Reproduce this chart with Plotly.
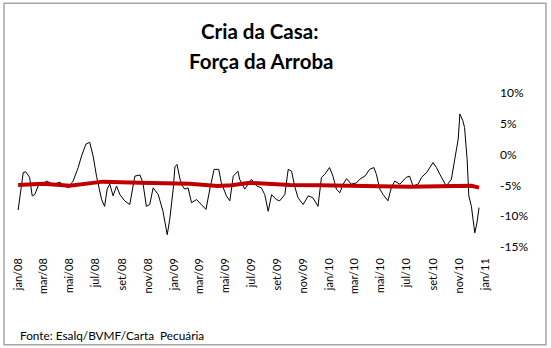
import pandas as pd
import plotly.graph_objects as go

# --- data -------------------------------------------------------------
START = "2008-01-01"

# weekly-ish readings of the cattle spread indicator (days from START, %)
black_days = [0, 12, 18, 27, 33, 39, 47, 67, 82, 98, 117, 129, 141, 149, 159, 168,
              176, 184, 196, 203, 209, 215, 223, 231, 239, 250, 262, 274, 286, 293,
              301, 309, 317, 329, 340, 350, 356, 364, 368, 373, 380, 386, 391, 399,
              407, 419, 430, 441, 450, 460, 471, 477, 489, 497, 505, 516, 520, 532,
              548, 560, 571, 579, 587, 595, 606, 614, 626, 634, 642, 649, 657, 669,
              681, 692, 704, 712, 720, 731, 739, 747, 755, 763, 771, 782, 794, 802,
              814, 825, 835, 841, 849, 857, 868, 876, 884, 896, 911, 919, 927, 939,
              947, 959, 974, 982, 990, 998, 1005, 1017, 1025, 1033, 1037, 1044,
              1048, 1054, 1058, 1064, 1072, 1077, 1082]
black_vals = [-9.0, -2.9, -2.8, -3.7, -6.7, -6.5, -5.1, -4.3, -4.8, -4.5, -5.4, -4.3,
              -2.1, -0.2, 1.7, 2.0, -0.2, -3.5, -7.3, -8.4, -5.6, -4.8, -6.7, -5.1,
              -6.5, -7.5, -8.1, -3.5, -3.3, -4.6, -8.4, -8.1, -5.4, -6.5, -9.2, -13.0,
              -10.5, -5.6, -2.0, -1.6, -4.0, -5.1, -5.6, -5.4, -7.8, -7.3, -8.1, -8.9,
              -5.6, -2.4, -2.4, -4.6, -6.7, -7.5, -3.5, -2.7, -4.0, -5.6, -4.0, -5.1,
              -5.4, -6.5, -9.2, -6.5, -7.3, -7.5, -6.5, -2.4, -2.7, -5.1, -7.0, -8.1,
              -6.7, -7.0, -8.4, -3.7, -3.2, -2.1, -3.5, -5.6, -6.2, -4.8, -3.9, -4.8,
              -4.6, -4.0, -3.5, -2.4, -2.1, -3.2, -5.6, -6.5, -7.5, -5.4, -4.3, -4.8,
              -3.7, -3.5, -5.1, -4.8, -3.7, -2.9, -1.3, -2.1, -3.2, -4.3, -5.1, -4.0,
              -0.8, 2.5, 6.6, 5.5, 4.4, -0.8, -6.7, -8.4, -12.7, -11.1, -8.6]

# long-run average of the same indicator (days from START, %)
red_days = [0, 58, 121, 199, 285, 344, 403, 468, 501, 544, 585, 638, 707, 779, 849,
            920, 989, 1043, 1064, 1082]
red_vals = [-4.94, -4.75, -5.07, -4.39, -4.55, -4.59, -4.72, -5.10, -4.99, -4.59,
            -4.75, -4.94, -4.99, -5.10, -5.20, -5.20, -5.15, -4.99, -5.07, -5.37]

tick_dates = ["2008-01-01", "2008-03-01", "2008-05-01", "2008-07-01", "2008-09-01",
              "2008-11-01", "2009-01-01", "2009-03-01", "2009-05-01", "2009-07-01",
              "2009-09-01", "2009-11-01", "2010-01-01", "2010-03-01", "2010-05-01",
              "2010-07-01", "2010-09-01", "2010-11-01", "2011-01-01"]
tick_labels = ["jan/08", "mar/08", "mai/08", "jul/08", "set/08", "nov/08", "jan/09",
               "mar/09", "mai/09", "jul/09", "set/09", "nov/09", "jan/10", "mar/10",
               "mai/10", "jul/10", "set/10", "nov/10", "jan/11"]
y_ticks = [10, 5, 0, -5, -10, -15]

start = pd.Timestamp(START)
black_x = start + pd.to_timedelta(black_days, unit="D")
red_x = start + pd.to_timedelta(red_days, unit="D")

# --- layout geometry (pixels) -----------------------------------------
W, H = 551, 348
ML, MR, MT, MB = 16, 63, 93.3, 101.3
PW, PH = W - ML - MR, H - MT - MB


def px(x):
    return (x - ML) / PW


def py(y):
    return (H - MB - y) / PH


FONT = "Lato, 'Open Sans', sans-serif"

fig = go.Figure()
fig.add_trace(go.Scatter(x=black_x, y=black_vals, mode="lines",
                         line=dict(color="#000000", width=1), showlegend=False))
fig.add_trace(go.Scatter(x=red_x, y=red_vals, mode="lines",
                         line=dict(color="#c00000", width=4), showlegend=False))

fig.update_layout(
    width=W, height=H,
    margin=dict(l=ML, r=MR, t=MT, b=MB),
    paper_bgcolor="white", plot_bgcolor="white",
    font=dict(family=FONT, color="#000000"),
    xaxis=dict(
        range=["2007-12-27", "2011-01-08"],
        tickvals=tick_dates, ticktext=tick_labels,
        tickangle=-90, tickfont=dict(size=11),
        showgrid=False, zeroline=False, showline=False,
        ticks="", ticklabelstandoff=8,
    ),
    yaxis=dict(
        range=[-15, 10], side="right",
        tickvals=y_ticks, ticktext=[f"{v}%" for v in y_ticks],
        tickfont=dict(size=12),
        showgrid=False, zeroline=False, showline=False,
        ticks="", ticklabelstandoff=11,
    ),
    shapes=[dict(type="rect", xref="paper", yref="paper",
                 x0=px(4), x1=px(546), y0=py(344), y1=py(4),
                 line=dict(color="#a6a6a6", width=1.5), layer="below")],
    annotations=[
        dict(text="<b>Cria da Casa:</b>", x=px(259), y=py(32), xref="paper", yref="paper",
             showarrow=False, xanchor="center", yanchor="middle",
             font=dict(size=20.5, family=FONT)),
        dict(text="<b>Força da Arroba</b>", x=px(261), y=py(61), xref="paper", yref="paper",
             showarrow=False, xanchor="center", yanchor="middle",
             font=dict(size=20.5, family=FONT)),
        dict(text="Fonte: Esalq/BVMF/Carta  Pecuária", x=px(18), y=py(335),
             xref="paper", yref="paper", showarrow=False,
             xanchor="left", yanchor="middle", font=dict(size=11.8, family=FONT)),
    ],
)

fig.write_html("out.html")
